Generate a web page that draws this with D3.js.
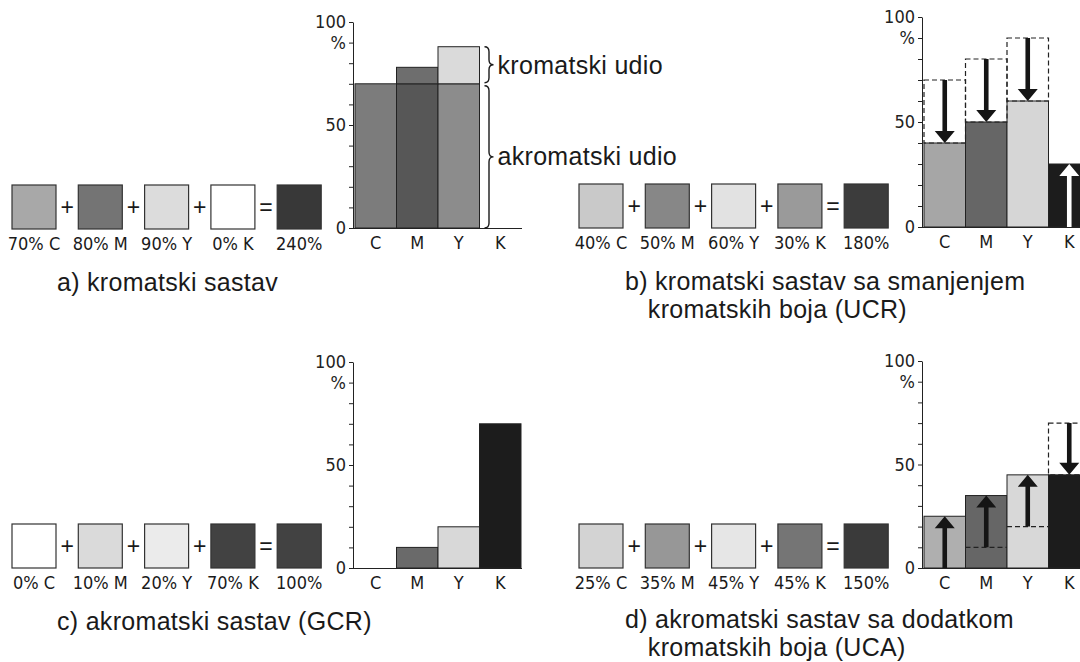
<!DOCTYPE html>
<meta charset="utf-8">
<script src="https://cdn.jsdelivr.net/npm/d3@7"></script>
<style>
  body { margin: 0; background: #fff; }
  .narrow { font-family: "Liberation Sans Narrow", "DejaVu Sans Condensed", "Roboto Condensed", sans-serif; font-stretch: condensed; font-size: 18px; }
  .caption { font-family: "Liberation Sans", Arial, sans-serif; font-size: 25px; letter-spacing: 0.3px; fill: #1a1a1a; }
  .sign { font-family: "Liberation Sans", Arial, sans-serif; font-size: 23px; fill: #1a1a1a; }
</style>
<div id="chart"></div>
<script>

// categories + ticks
var categories = ["C", "M", "Y", "K"];
var yTicks = d3.range(0, 101, 10);

// a) kromatski sastav
var aAchromatic = [70, 70, 70, 0];
var aTotal = [70, 78, 88, 0];
var aSwatchLabels = ["70% C", "80% M", "90% Y", "0% K", "240%"];

// b) UCR - before / after
var bBefore = [70, 80, 90, 0];
var bAfter = [40, 50, 60, 30];
var bSwatchLabels = ["40% C", "50% M", "60% Y", "30% K", "180%"];

// c) GCR
var cValues = [0, 10, 20, 70];
var cSwatchLabels = ["0% C", "10% M", "20% Y", "70% K", "100%"];

// d) UCA - before / after
var dBefore = [0, 10, 20, 70];
var dAfter = [25, 35, 45, 45];
var dSwatchLabels = ["25% C", "35% M", "45% Y", "45% K", "150%"];

var signs = ["+", "+", "+", "="];

// grey tones (styles, kept apart from the data)
var aSwatchFill = ["#a8a8a8", "#747474", "#dcdcdc", "#ffffff", "#383838"];
var bSwatchFill = ["#c9c9c9", "#878787", "#e2e2e2", "#9a9a9a", "#3c3c3c"];
var cSwatchFill = ["#ffffff", "#dadada", "#ebebeb", "#424242", "#424242"];
var dSwatchFill = ["#d3d3d3", "#979797", "#e6e6e6", "#757575", "#3a3a3a"];
var barFill = ["#a6a6a6", "#666666", "#d6d6d6", "#1c1c1c"];

var svg = d3.select("#chart").append("svg")
  .attr("width", 1080)
  .attr("height", 662)
  .style("background-color", "#ffffff");

// one small chart: y axis with ticks every 10, labels only 0 / 50 / 100 and "%"
function makePanel(ax, y0, y100, xEnd) {
  var y = d3.scaleLinear().domain([0, 100]).range([y0, y100]);
  var x = d3.scaleBand().domain(categories).range([ax + 2, ax + 168]);
  var g = svg.append("g");

  g.append("g")
    .attr("class", "narrow")
    .attr("transform", "translate(" + ax + ",0)")
    .style("color", "#222")
    .call(d3.axisLeft(y)
      .tickValues(yTicks)
      .tickSize(4)
      .tickSizeOuter(0)
      .tickPadding(3)
      .tickFormat(function(d) {
        if (d == 100) return "100";
        if (d == 90) return "%";
        if (d == 50) return "50";
        if (d == 0) return "0";
        return "";
      }));

  g.append("line")
    .attr("x1", ax).attr("x2", xEnd)
    .attr("y1", y0 + 0.5).attr("y2", y0 + 0.5)
    .attr("stroke", "#222").attr("stroke-width", 1.2);

  g.selectAll(".cat")
    .data(categories)
    .enter().append("text")
    .attr("class", "narrow")
    .attr("text-anchor", "middle")
    .attr("x", function(d) { return x(d) + x.bandwidth() / 2; })
    .attr("y", y0 + 21)
    .attr("fill", "#1a1a1a")
    .text(function(d) { return d; });

  return { x: x, y: y, g: g };
}

// row of five squares: C + M + Y + K = sum
function swatches(x0, y0, labels, fills) {
  var step = 66.3, size = 44;
  var g = svg.append("g");
  g.selectAll("rect")
    .data(labels)
    .enter().append("rect")
    .attr("x", function(d, i) { return x0 + i * step; })
    .attr("y", y0 - size)
    .attr("width", size).attr("height", size)
    .attr("fill", function(d, i) { return fills[i]; })
    .attr("stroke", "#333").attr("stroke-width", 1.2);
  g.selectAll(".lab")
    .data(labels)
    .enter().append("text")
    .attr("class", "narrow")
    .attr("text-anchor", "middle")
    .attr("x", function(d, i) { return x0 + i * step + size / 2; })
    .attr("y", y0 + 21)
    .attr("fill", "#1a1a1a")
    .text(function(d) { return d; });
  g.selectAll(".sg")
    .data(signs)
    .enter().append("text")
    .attr("class", "sign")
    .attr("text-anchor", "middle")
    .attr("dominant-baseline", "central")
    .attr("x", function(d, i) { return x0 + i * step + size + (step - size) / 2; })
    .attr("y", y0 - size / 2)
    .text(function(d) { return d; });
}

function bars(p, lo, hi, fills) {
  p.g.append("g").selectAll("rect")
    .data(categories)
    .enter().append("rect")
    .attr("x", function(d) { return p.x(d); })
    .attr("width", p.x.bandwidth())
    .attr("y", function(d, i) { return p.y(hi[i]); })
    .attr("height", function(d, i) { return p.y(lo[i]) - p.y(hi[i]); })
    .attr("fill", function(d, i) { return fills[i]; })
    .attr("stroke", "#222").attr("stroke-width", 1);
}

// thick arrow from tail value to tip value
function arrow(p, cat, from, to, fill) {
  var cx = p.x(cat) + p.x.bandwidth() / 2;
  var yA = p.y(from), yB = p.y(to);
  var dir = yB > yA ? 1 : -1;
  var head = 12, hw = 10, sw = 2.3;
  var yBase = yB - dir * head;
  var path = d3.path();
  path.moveTo(cx - sw, yA);
  path.lineTo(cx + sw, yA);
  path.lineTo(cx + sw, yBase);
  path.lineTo(cx + hw, yBase);
  path.lineTo(cx, yB);
  path.lineTo(cx - hw, yBase);
  path.lineTo(cx - sw, yBase);
  path.closePath();
  p.g.append("path").attr("d", path.toString()).attr("fill", fill);
}

function dashed(sel) {
  return sel.attr("fill", "none").attr("stroke", "#222")
    .attr("stroke-width", 1.2).attr("stroke-dasharray", "5,3");
}

// curly brace opening to the right
function brace(g, x, yTop, yBot) {
  var w = 9, r = 5, ym = (yTop + yBot) / 2, xm = x + w / 2;
  var path = d3.path();
  path.moveTo(x, yTop);
  path.quadraticCurveTo(xm, yTop, xm, yTop + r);
  path.lineTo(xm, ym - r);
  path.quadraticCurveTo(xm, ym, x + w, ym);
  path.quadraticCurveTo(xm, ym, xm, ym + r);
  path.lineTo(xm, yBot - r);
  path.quadraticCurveTo(xm, yBot, x, yBot);
  g.append("path").attr("d", path.toString())
    .attr("fill", "none").attr("stroke", "#1a1a1a").attr("stroke-width", 1.4);
  return x + w;
}

function caption(x, yBase, first, second) {
  var t = svg.append("text").attr("class", "caption").attr("x", x).attr("y", yBase);
  t.append("tspan").text(first);
  if (second) {
    var probe = svg.append("text").attr("class", "caption").text(first.slice(0, 3));
    var off = probe.node().getComputedTextLength();
    probe.remove();
    t.append("tspan").attr("x", x + off).attr("dy", 28).text(second);
  }
}

// ---- a) kromatski sastav
var pa = makePanel(353, 228, 22, 522);
bars(pa, [0, 0, 0, 0], aAchromatic, ["#7c7c7c", "#575757", "#8c8c8c", "none"]);
bars(pa, aAchromatic, aTotal, ["none", "#6e6e6e", "#dadada", "none"]);
var bx = pa.x("K") + 5;
var tipA = brace(pa.g, bx, pa.y(aTotal[2]), pa.y(aAchromatic[2]) - 1);
brace(pa.g, bx, pa.y(aAchromatic[2]) + 2, pa.y(0));
pa.g.append("text").attr("class", "caption")
  .attr("x", tipA + 4).attr("y", (pa.y(aTotal[2]) + pa.y(aAchromatic[2])) / 2)
  .attr("dominant-baseline", "central").text("kromatski udio");
pa.g.append("text").attr("class", "caption")
  .attr("x", tipA + 4).attr("y", (pa.y(aAchromatic[2]) + pa.y(0)) / 2)
  .attr("dominant-baseline", "central").text("akromatski udio");
swatches(12, 229, aSwatchLabels, aSwatchFill);
caption(57, 291, "a) kromatski sastav");

// ---- b) UCR
var pb = makePanel(922, 227, 17, 1080);
bars(pb, [0, 0, 0, 0], bAfter, barFill);
categories.forEach(function(c, i) {
  if (bBefore[i] > bAfter[i]) {
    dashed(pb.g.append("rect"))
      .attr("x", pb.x(c)).attr("width", pb.x.bandwidth())
      .attr("y", pb.y(bBefore[i])).attr("height", pb.y(bAfter[i]) - pb.y(bBefore[i]));
    arrow(pb, c, bBefore[i], bAfter[i], "#151515");
  } else {
    arrow(pb, c, 0, bAfter[i], "#ffffff");
  }
});
swatches(579, 228, bSwatchLabels, bSwatchFill);
caption(625, 290, "b) kromatski sastav sa smanjenjem", "kromatskih boja (UCR)");

// ---- c) GCR
var pc = makePanel(353, 568, 362, 522);
bars(pc, [0, 0, 0, 0], cValues, ["#8a8a8a", "#6a6a6a", "#d8d8d8", "#1c1c1c"]);
swatches(12, 568, cSwatchLabels, cSwatchFill);
caption(57, 630, "c) akromatski sastav (GCR)");

// ---- d) UCA
var pd = makePanel(922, 568, 361, 1080);
bars(pd, [0, 0, 0, 0], dAfter, ["#afafaf", "#666666", "#d8d8d8", "#1c1c1c"]);
categories.forEach(function(c, i) {
  if (dBefore[i] > dAfter[i]) {
    dashed(pd.g.append("rect"))
      .attr("x", pd.x(c)).attr("width", pd.x.bandwidth() + 20)
      .attr("y", pd.y(dBefore[i])).attr("height", pd.y(dAfter[i]) - pd.y(dBefore[i]));
    arrow(pd, c, dBefore[i], dAfter[i], "#151515");
  } else {
    if (dBefore[i] > 0) {
      dashed(pd.g.append("line"))
        .attr("x1", pd.x(c)).attr("x2", pd.x(c) + pd.x.bandwidth())
        .attr("y1", pd.y(dBefore[i])).attr("y2", pd.y(dBefore[i]));
    }
    arrow(pd, c, dBefore[i], dAfter[i], "#151515");
  }
});
swatches(579, 568, dSwatchLabels, dSwatchFill);
caption(625, 628, "d) akromatski sastav sa dodatkom", "kromatskih boja (UCA)");

</script>
